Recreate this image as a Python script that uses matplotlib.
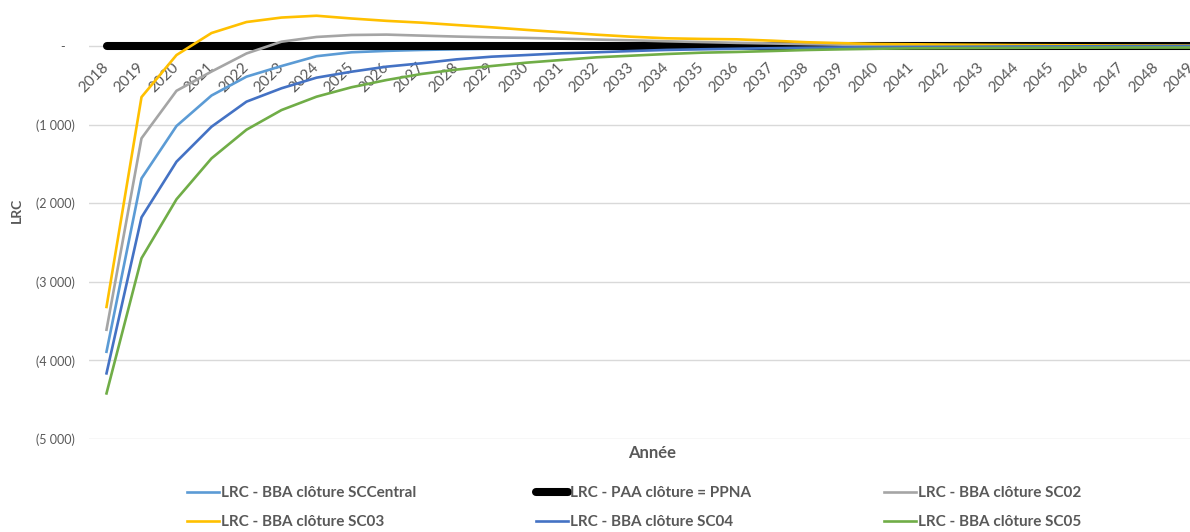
import matplotlib
matplotlib.use("Agg")
import matplotlib.pyplot as plt
from matplotlib.ticker import FuncFormatter

plt.rcParams['font.family'] = ['Lato', 'DejaVu Sans']

# années du scénario
years = [str(y) for y in range(2018, 2050)]

# LRC par scénario (en milliers)
lrc_sc_central = [-3890, -1685, -1018, -630, -390, -255, -130, -80, -62, -50,
                  -42, -35, -30, -25, -21, -18, -15, -12, -10, -8,
                  -7, -6, -5, -4, -3, -3, -2, -2, -1, -1, -1, 0]
lrc_paa = [0] * 32
lrc_sc02 = [-3610, -1175, -570, -325, -95, 55, 115, 140, 145, 132,
            120, 110, 103, 93, 82, 72, 60, 50, 40, 32,
            24, 17, 12, 8, 5, 3, 2, 1, 0, 0, 0, 0]
lrc_sc03 = [-3320, -650, -115, 165, 305, 362, 385, 350, 320, 297,
            267, 238, 205, 175, 144, 118, 98, 90, 85, 68,
            48, 36, 26, 22, 18, 15, 12, 10, 8, 6, 5, 4]
lrc_sc04 = [-4165, -2180, -1472, -1027, -708, -538, -403, -327, -263, -220,
            -170, -136, -115, -93, -80, -64, -50, -42, -35, -28,
            -22, -18, -15, -12, -10, -8, -6, -5, -4, -3, -2, -1]
lrc_sc05 = [-4420, -2700, -1950, -1430, -1065, -815, -645, -525, -433, -356,
            -300, -255, -212, -178, -144, -123, -102, -85, -76, -64,
            -51, -42, -35, -30, -28, -26, -24, -22, -21, -20, -20, -20]

labels = ["LRC - BBA clôture SCCentral", "LRC - PAA clôture = PPNA",
          "LRC - BBA clôture SC02", "LRC - BBA clôture SC03",
          "LRC - BBA clôture SC04", "LRC - BBA clôture SC05"]
colors = ["#5B9BD5", "#000000", "#A5A5A5", "#FFC000", "#4472C4", "#70AD47"]
values = [lrc_sc_central, lrc_paa, lrc_sc02, lrc_sc03, lrc_sc04, lrc_sc05]

grey = "#595959"

fig = plt.figure(figsize=(11.9, 5.32), dpi=100)
ax = fig.add_axes([89 / 1190, 1 - 439 / 532, 1120 / 1190, 471.6 / 532])

x = list(range(len(years)))
handles = []
for lab, vals, col in zip(labels, values, colors):
    if col == "#000000":
        h, = ax.plot(x, vals, color=col, lw=5.8, solid_capstyle='round', label=lab)
    else:
        h, = ax.plot(x, vals, color=col, lw=1.9, label=lab)
    handles.append(h)

ax.set_xlim(-0.5, len(years) - 0.5)
ax.set_ylim(-5000, 1000)
ax.set_yticks(range(-5000, 1, 1000))


def fmt(v, pos):
    if v == 0:
        return "-   "
    return "({:,.0f})".format(-v).replace(",", " ")


ax.yaxis.set_major_formatter(FuncFormatter(fmt))
ax.grid(axis='y', color='#d9d9d9', lw=1)
ax.set_axisbelow(True)
for s in ax.spines.values():
    s.set_visible(False)
ax.spines['bottom'].set_position(('data', 0))

ax.set_xticks(x)
ax.set_xticklabels(years, rotation=45, ha='right', va='center',
                   rotation_mode='anchor', fontsize=11, color=grey)
ax.tick_params(axis='x', length=0, pad=14)
ax.tick_params(axis='y', length=0, pad=10, labelsize=9, labelcolor=grey)

ax.set_ylabel("LRC", fontsize=10, fontweight='bold', color=grey)
ax.yaxis.set_label_coords((23 - 89) / 1120, (439 - 210) / 471.6)
ax.set_xlabel("Année", fontsize=12, fontweight='bold', color=grey)
ax.xaxis.set_label_coords((652 - 89) / 1120, -(445 - 439) / 471.6)

# légende sur deux lignes, trois colonnes
col_x = [187, 536, 884]
order = [[0, 3], [1, 4], [2, 5]]
for cx, idx in zip(col_x, order):
    lg = fig.legend([handles[i] for i in idx], [labels[i] for i in idx],
                    loc='upper left', bbox_to_anchor=(cx / 1190, 1 - 486 / 532),
                    frameon=False, borderpad=0, borderaxespad=0,
                    handlelength=2.1, handletextpad=0.15, labelspacing=1.0,
                    prop={'size': 11, 'weight': 'bold'})
    for t in lg.get_texts():
        t.set_color(grey)

fig.savefig("out.png", dpi=100)
